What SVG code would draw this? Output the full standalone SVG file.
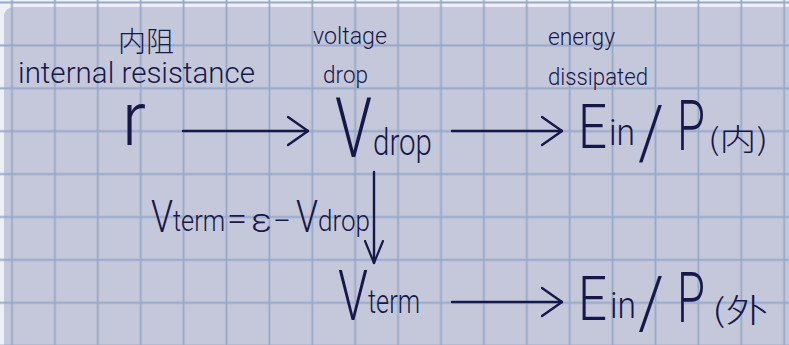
<svg xmlns="http://www.w3.org/2000/svg" width="789" height="345" viewBox="0 0 789 345">
  <defs>
    <style>
      .ink { fill: #17184a; font-family: Roboto, "Liberation Sans", "Noto Sans CJK SC", sans-serif; font-weight: 300; }
      .cjk { fill: #17184a; font-family: "Noto Sans CJK SC", "Liberation Sans", sans-serif; font-weight: 300; }
      .line { stroke: #17184a; stroke-width: 2.4; fill: none; stroke-linecap: round; stroke-linejoin: round; }
      .grid { stroke: #97a8c9; stroke-width: 1.8; }
    </style>
    <marker id="chev" viewBox="0 0 22 32" refX="21" refY="16" markerWidth="22" markerHeight="32" markerUnits="userSpaceOnUse" orient="auto">
      <path d="M1,2 L21,16 L1,30" fill="none" stroke="#17184a" stroke-width="2.4" stroke-linecap="round" stroke-linejoin="round"/>
    </marker>
    <marker id="chevSmall" viewBox="0 0 24 20" refX="23" refY="10" markerWidth="24" markerHeight="20" markerUnits="userSpaceOnUse" orient="auto">
      <path d="M1,1 L23,10 L1,19" fill="none" stroke="#17184a" stroke-width="2.2" stroke-linecap="round" stroke-linejoin="round"/>
    </marker>
    <pattern id="gridPat" x="10.5" y="1" width="42.9" height="42.9" patternUnits="userSpaceOnUse">
      <path d="M1.5,0 V42.9 M0,1.5 H42.9" class="grid" fill="none"/>
    </pattern>
  </defs>

  <g id="background">
    <rect x="0" y="0" width="789" height="345" fill="#eef0f6"/>
    <rect x="4" y="7" width="800" height="360" rx="9" ry="9" fill="#c5c8da"/>
    <rect x="0" y="0" width="789" height="345" fill="url(#gridPat)"/>
  </g>

  <g id="node-r">
    <text class="cjk" x="118" y="52" font-size="28" textLength="56" lengthAdjust="spacingAndGlyphs">内阻</text>
    <text class="ink" x="18" y="83" font-size="29" textLength="237" lengthAdjust="spacingAndGlyphs">internal resistance</text>
    <text class="ink" x="122" y="145" font-size="76" textLength="24" lengthAdjust="spacingAndGlyphs">r</text>
  </g>

  <g id="node-vdrop">
    <text class="ink" x="313" y="44" font-size="24" textLength="74" lengthAdjust="spacingAndGlyphs">voltage</text>
    <text class="ink" x="323" y="83" font-size="23" textLength="45" lengthAdjust="spacingAndGlyphs">drop</text>
    <text class="ink" x="335" y="157" font-size="84" textLength="37" lengthAdjust="spacingAndGlyphs">V</text>
    <text class="ink" x="373" y="155" font-size="36" textLength="59" lengthAdjust="spacingAndGlyphs">drop</text>
  </g>

  <g id="node-e-internal">
    <text class="ink" x="548" y="45" font-size="24" textLength="67" lengthAdjust="spacingAndGlyphs">energy</text>
    <text class="ink" x="548" y="85" font-size="24" textLength="100" lengthAdjust="spacingAndGlyphs">dissipated</text>
    <text class="ink" x="578" y="148" font-size="62" textLength="29" lengthAdjust="spacingAndGlyphs">E</text>
    <text class="ink" x="609" y="145" font-size="36" textLength="26" lengthAdjust="spacingAndGlyphs">in</text>
    <text class="ink" x="638" y="158" font-size="74" textLength="26" lengthAdjust="spacingAndGlyphs">/</text>
    <text class="ink" x="677" y="150" font-size="70" textLength="28" lengthAdjust="spacingAndGlyphs">P</text>
    <text class="cjk" x="708" y="150" font-size="30" textLength="60" lengthAdjust="spacingAndGlyphs">(内)</text>
  </g>

  <g id="node-vterm">
    <text class="ink" x="338" y="320" font-size="70" textLength="30" lengthAdjust="spacingAndGlyphs">V</text>
    <text class="ink" x="368" y="313" font-size="34" textLength="52" lengthAdjust="spacingAndGlyphs">term</text>
  </g>

  <g id="node-e-external">
    <text class="ink" x="578" y="320" font-size="62" textLength="29" lengthAdjust="spacingAndGlyphs">E</text>
    <text class="ink" x="610" y="318" font-size="36" textLength="26" lengthAdjust="spacingAndGlyphs">in</text>
    <text class="ink" x="638" y="328" font-size="72" textLength="26" lengthAdjust="spacingAndGlyphs">/</text>
    <text class="ink" x="677" y="322" font-size="70" textLength="28" lengthAdjust="spacingAndGlyphs">P</text>
    <text class="cjk" x="712" y="322" font-size="32" textLength="56" lengthAdjust="spacingAndGlyphs">(外</text>
  </g>

  <g id="connectors">
    <path class="line" d="M183,131 H308" marker-end="url(#chev)"/>
    <path class="line" d="M452,131 H562" marker-end="url(#chev)"/>
    <path class="line" d="M374,172 V263" marker-end="url(#chevSmall)"/>
    <path class="line" d="M452,302 H562" marker-end="url(#chev)"/>
    <g id="formula-label">
      <text class="ink" x="151" y="232" font-size="45" textLength="22" lengthAdjust="spacingAndGlyphs">V</text>
      <text class="ink" x="173" y="231" font-size="30" textLength="52" lengthAdjust="spacingAndGlyphs">term</text>
      <text class="ink" x="227" y="229" font-size="32" textLength="20" lengthAdjust="spacingAndGlyphs">=</text>
      <text class="ink" x="251" y="232" font-size="34" textLength="21" lengthAdjust="spacingAndGlyphs">ε</text>
      <text class="ink" x="274" y="230" font-size="32" textLength="16" lengthAdjust="spacingAndGlyphs">-</text>
      <text class="ink" x="296" y="232" font-size="45" textLength="22" lengthAdjust="spacingAndGlyphs">V</text>
      <text class="ink" x="318" y="231" font-size="30" textLength="52" lengthAdjust="spacingAndGlyphs">drop</text>
    </g>
  </g>
</svg>
